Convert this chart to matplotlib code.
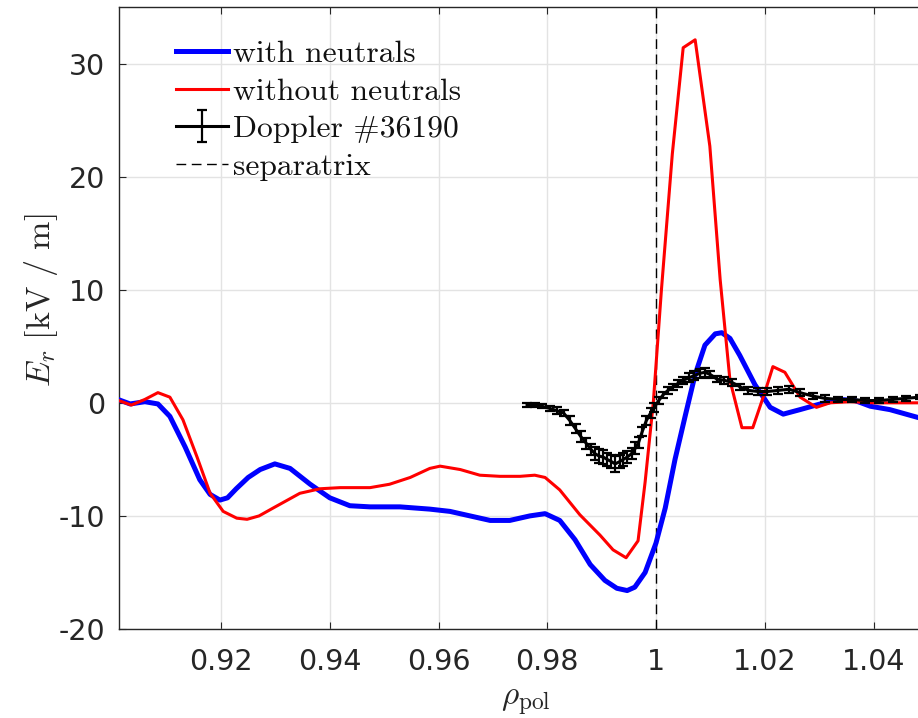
import numpy as np
import matplotlib
matplotlib.use('Agg')
import matplotlib.pyplot as plt

plt.rcParams['axes.unicode_minus'] = False
plt.rcParams['mathtext.fontset'] = 'cm'
plt.rcParams['font.family'] = ['DejaVu Sans']

# ---------------- data ----------------
rho_with = [0.9012, 0.9033, 0.9060, 0.9084, 0.9106, 0.9134, 0.9161, 0.9180, 0.9198, 0.9212,
            0.9228, 0.9250, 0.9272, 0.9299, 0.9327, 0.9364, 0.9400, 0.9437, 0.9474, 0.9529, 0.9584,
            0.9621, 0.9658, 0.9695, 0.9731, 0.9768, 0.9796, 0.9823, 0.9851, 0.9879, 0.9906,
            0.9928, 0.9947, 0.9961, 0.9980, 1.0000, 1.0017, 1.0035, 1.0054, 1.0072, 1.0090,
            1.0109, 1.0121, 1.0136, 1.0154, 1.0182, 1.0210, 1.0234, 1.0265, 1.0302, 1.0338,
            1.0366, 1.0394, 1.0430, 1.0482, 1.0504]
er_with = [0.27, -0.1, 0.1, -0.1, -1.2, -3.9, -6.8, -8.1, -8.6, -8.4,
           -7.6, -6.6, -5.9, -5.4, -5.8, -7.2, -8.4, -9.1, -9.2, -9.2, -9.4,
           -9.6, -10.0, -10.4, -10.4, -10.0, -9.8, -10.4, -12.1, -14.3, -15.7,
           -16.4, -16.6, -16.3, -15.0, -12.4, -9.3, -5.0, -1.1, 2.5, 5.1,
           6.1, 6.2, 5.7, 4.2, 1.6, -0.4, -1.0, -0.6, -0.1, 0.3,
           0.2, -0.3, -0.6, -1.3, -1.5]

rho_without = [0.9012, 0.9035, 0.9060, 0.9084, 0.9106, 0.9130, 0.9156, 0.9180, 0.9204, 0.9229,
               0.9248, 0.9270, 0.9296, 0.9345, 0.9382, 0.9419, 0.9474, 0.9510, 0.9548, 0.9584,
               0.9603, 0.9640, 0.9676, 0.9713, 0.9750, 0.9777, 0.9796, 0.9823, 0.9860, 0.9897,
               0.9921, 0.9945, 0.9967, 0.9980, 0.9995, 1.0010, 1.0030, 1.0050, 1.0072, 1.0099,
               1.0118, 1.0136, 1.0158, 1.0178, 1.0200, 1.0215, 1.0237, 1.0265, 1.0295, 1.0320,
               1.0357, 1.0400, 1.0482, 1.0504]
er_without = [0.2, -0.2, 0.3, 0.9, 0.5, -1.5, -4.8, -8.0, -9.6, -10.2,
              -10.3, -10.0, -9.3, -8.0, -7.6, -7.5, -7.5, -7.2, -6.6, -5.8,
              -5.6, -5.9, -6.4, -6.5, -6.5, -6.4, -6.6, -7.7, -9.9, -11.7,
              -13.0, -13.7, -12.2, -7.0, 0.0, 10.0, 22.0, 31.4, 32.1, 22.7,
              10.9, 2.0, -2.2, -2.2, 0.9, 3.2, 2.7, 0.5, -0.4, 0.0,
              0.1, 0.0, 0.0, 0.0]

rho_doppler = [0.9763, 0.9777, 0.9790, 0.9805, 0.9818, 0.9830, 0.9842, 0.9852, 0.9862, 0.9872,
               0.9880, 0.9888, 0.9895, 0.9903, 0.9910, 0.9918, 0.9925, 0.9933, 0.9940, 0.9947,
               0.9955, 0.9962, 0.9968, 0.9975, 0.9982, 0.9990, 0.9997, 1.0005, 1.0013, 1.0022,
               1.0031, 1.0040, 1.0050, 1.0060, 1.0070, 1.0080, 1.0090, 1.0100, 1.0112, 1.0125,
               1.0140, 1.0155, 1.0170, 1.0188, 1.0205, 1.0225, 1.0245, 1.0265, 1.0288, 1.0310,
               1.0335, 1.0360, 1.0385, 1.0410, 1.0435, 1.0460, 1.0485]
er_doppler = [-0.2, -0.2, -0.3, -0.5, -0.7, -0.9, -1.6, -2.3, -3.0, -3.6,
              -4.1, -4.5, -4.7, -4.8, -5.0, -5.2, -5.4, -5.2, -5.0, -4.8,
              -4.5, -4.0, -3.5, -2.5, -1.6, -0.9, -0.4, 0.2, 0.7, 1.1,
              1.4, 1.7, 2.0, 2.2, 2.4, 2.6, 2.7, 2.5, 2.1, 2.0,
              1.8, 1.4, 1.1, 1.0, 1.0, 1.1, 1.2, 0.9, 0.6, 0.4,
              0.3, 0.3, 0.2, 0.2, 0.3, 0.4, 0.5]
err_doppler = [0.2, 0.2, 0.2, 0.2, 0.3, 0.3, 0.4, 0.4, 0.5, 0.5,
               0.5, 0.6, 0.6, 0.6, 0.6, 0.6, 0.7, 0.6, 0.6, 0.5,
               0.5, 0.5, 0.5, 0.4, 0.4, 0.4, 0.4, 0.3, 0.3, 0.3,
               0.3, 0.3, 0.3, 0.4, 0.4, 0.4, 0.4, 0.3, 0.3, 0.3,
               0.3, 0.3, 0.3, 0.3, 0.3, 0.3, 0.3, 0.3, 0.3, 0.3,
               0.2, 0.2, 0.2, 0.2, 0.2, 0.2, 0.2]

separatrix = 1.0
xticks = [0.92, 0.94, 0.96, 0.98, 1.0, 1.02, 1.04]
xticklabels = ['0.92', '0.94', '0.96', '0.98', '1', '1.02', '1.04']
yticks = [-20, -10, 0, 10, 20, 30]
yticklabels = ['-20', '-10', '0', '10', '20', '30']
labels = ['with neutrals', 'without neutrals', 'Doppler #36190', 'separatrix']

# ---------------- figure ----------------
W, H = 918, 718
fig = plt.figure(figsize=(W / 100, H / 100), dpi=100)
ax = fig.add_axes([119 / W, (H - 629) / H, (930 - 119) / W, (629 - 7) / H])

x0 = 0.92 - 102 / 5437.5
x1 = 0.92 + (930 - 221) / 5437.5
ax.set_xlim(x0, x1)
ax.set_ylim(-20, 35)

ax.grid(True, color='#e3e3e3', lw=1.0)
ax.set_axisbelow(True)

l1, = ax.plot(rho_with, er_with, color='#0000ff', lw=3.6, label=labels[0], zorder=3)
l2, = ax.plot(rho_without, er_without, color='#ff0000', lw=2.2, label=labels[1], zorder=3)
eb = ax.errorbar(rho_doppler, er_doppler, yerr=err_doppler, color='k', lw=2.2,
                 elinewidth=1.6, capsize=3.5, capthick=1.6, label=labels[2], zorder=4)
l4 = ax.axvline(separatrix, color='k', ls=(0, (7, 4)), lw=1.0, label=labels[3], zorder=2)

ax.set_xticks(xticks)
ax.set_xticklabels(xticklabels)
ax.set_yticks(yticks)
ax.set_yticklabels(yticklabels)
ax.tick_params(direction='in', length=5, width=0.8, top=True, right=True,
               labelsize=20.5, colors='#262626')
ax.tick_params(axis='x', pad=14)
ax.tick_params(axis='y', pad=10)
for s in ax.spines.values():
    s.set_color('#262626')
    s.set_linewidth(1.0)

ax.set_ylabel(r'$E_r\ [\mathrm{kV\ /\ m}]$', fontsize=24.5, color='#262626',
              va='center', ha='center')
ax.yaxis.set_label_coords(41 / W, (H - 300) / H, transform=fig.transFigure)
ax.set_xlabel(r'$\rho_\mathrm{pol}$', fontsize=24, color='#262626',
              va='center', ha='center')
ax.xaxis.set_label_coords(526 / W, (H - 701) / H, transform=fig.transFigure)

leg = ax.legend(handles=[l1, l2, eb, l4], labels=labels, loc='upper left',
                bbox_to_anchor=(176 / W, (H - 40) / H), bbox_transform=fig.transFigure,
                frameon=False, prop={'family': 'cmr10', 'size': 22.7},
                handlelength=1.65, handletextpad=0.15, labelspacing=0.3, borderpad=0,
                borderaxespad=0)
for t in leg.get_texts():
    t.set_color('#111111')

fig.savefig('out.png', dpi=100)
